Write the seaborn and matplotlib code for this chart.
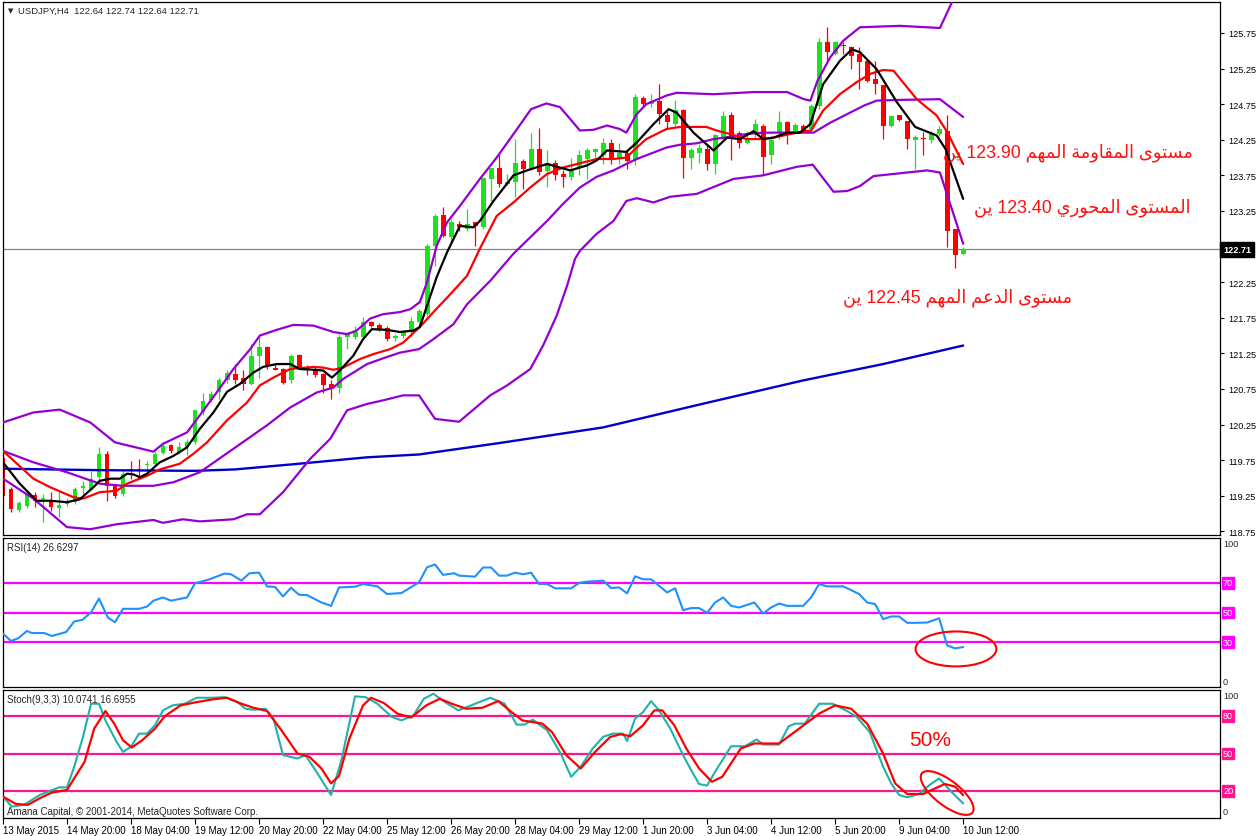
import numpy as np
import matplotlib
matplotlib.use("Agg")
import matplotlib.pyplot as plt
import seaborn as sns
from matplotlib.patches import Ellipse
from matplotlib import transforms as mtrans

sns.set_style("white")
plt.rcParams['font.family'] = ['Liberation Sans', 'DejaVu Sans']

# ---------------- data ----------------
symbol = "USDJPY,H4"
opens = [119.78,119.35,119.05,119.11,119.26,119.20,119.18,119.08,119.14,119.16,
         119.36,119.35,119.51,119.84,119.39,119.28,119.62,119.62,119.68,119.70,
         119.85,119.96,119.87,119.93,120.00,120.42,120.59,120.71,120.87,120.96,
         120.90,120.82,121.22,121.34,121.05,121.03,120.87,121.23,121.05,121.03,
         120.96,120.82,120.77,121.48,121.48,121.48,121.69,121.65,121.61,121.46,
         121.49,121.55,121.69,121.80,122.76,123.19,122.88,123.07,123.00,123.09,
         123.02,123.70,123.85,123.63,123.65,123.95,123.84,124.12,123.81,123.93,
         123.77,123.73,123.86,123.98,124.08,124.03,124.21,124.00,124.06,123.96,
         124.84,124.75,124.79,124.60,124.47,124.67,124.00,124.07,124.12,123.91,
         124.28,124.60,124.34,124.21,124.33,124.45,124.03,124.35,124.50,124.38,
         124.45,124.40,124.73,125.62,125.46,125.58,125.55,125.45,125.36,125.10,
         125.02,124.45,124.60,124.52,124.24,124.27,124.24,124.33,124.38,122.99,
         122.64]
highs = [119.85,119.38,119.18,119.30,119.30,119.27,119.30,119.30,119.22,119.37,
         119.46,119.60,119.93,119.88,119.42,119.63,119.74,119.77,119.74,119.88,
         120.00,119.98,120.00,120.05,120.45,120.70,120.72,120.91,121.01,121.10,
         121.01,121.38,121.48,121.36,121.12,121.05,121.24,121.24,121.08,121.06,
         120.98,120.87,121.52,121.55,121.64,121.76,121.71,121.68,121.63,121.52,
         121.58,121.76,121.87,122.79,123.21,123.30,123.14,123.11,123.28,123.09,
         123.73,123.86,124.05,123.77,124.26,123.98,124.35,124.42,124.10,123.96,
         123.82,124.00,124.10,124.14,124.14,124.28,124.26,124.21,124.10,124.89,
         124.87,124.89,125.03,124.65,124.81,124.68,124.14,124.19,124.17,124.33,
         124.66,124.64,124.38,124.38,124.54,124.47,124.28,124.65,124.52,124.49,
         124.47,124.75,125.68,125.83,125.64,125.62,125.57,125.55,125.39,125.36,
         125.02,124.60,124.60,124.52,124.31,124.36,124.38,124.45,124.60,122.99,
         122.74]
lows = [119.20,119.02,119.02,119.08,119.09,118.88,119.04,118.95,119.10,119.14,
        119.28,119.33,119.46,119.18,119.22,119.25,119.48,119.48,119.61,119.68,
        119.84,119.85,119.84,119.82,119.98,120.38,120.56,120.61,120.84,120.82,
        120.73,120.80,120.91,121.03,121.01,120.82,120.84,121.03,120.94,120.92,
        120.70,120.61,120.70,121.31,121.45,121.45,121.62,121.57,121.42,121.43,
        121.46,121.50,121.64,121.78,122.48,122.88,122.81,122.97,122.97,122.76,
        123.00,123.39,123.58,123.61,123.44,123.56,123.82,123.75,123.58,123.68,
        123.58,123.68,123.75,123.70,124.00,123.91,123.91,123.91,123.84,123.89,
        124.73,124.71,124.47,124.42,124.45,123.72,123.84,123.93,123.83,123.77,
        124.24,123.96,124.13,124.19,124.28,123.75,123.91,124.26,124.19,124.35,
        124.36,124.37,124.68,125.36,125.44,125.46,125.24,124.96,125.06,124.89,
        124.26,124.43,124.52,124.12,123.84,124.04,124.21,124.30,122.74,122.45,
        122.64]
closes = [119.25,119.07,119.15,119.28,119.18,119.21,119.09,119.12,119.18,119.34,
          119.39,119.49,119.84,119.39,119.25,119.56,119.60,119.60,119.70,119.84,
          119.95,119.88,119.93,120.00,120.45,120.58,120.68,120.87,120.98,120.87,
          120.82,121.22,121.34,121.08,121.02,120.84,121.22,121.05,121.03,120.94,
          120.80,120.75,121.48,121.52,121.55,121.69,121.64,121.59,121.45,121.49,
          121.55,121.71,121.85,122.76,123.18,122.90,123.09,123.02,123.07,123.04,
          123.72,123.85,123.63,123.65,123.92,123.84,124.12,123.80,123.92,123.75,
          123.73,123.82,124.03,124.10,124.12,124.21,124.00,124.07,123.95,124.85,
          124.75,124.79,124.61,124.50,124.67,124.00,124.10,124.13,123.91,124.31,
          124.59,124.28,124.20,124.28,124.47,124.01,124.24,124.50,124.33,124.46,
          124.38,124.73,125.62,125.48,125.62,125.57,125.43,125.34,125.08,125.03,
          124.45,124.58,124.53,124.26,124.29,124.26,124.33,124.40,122.97,122.63,
          122.71]

date_labels = ["13 May 2015", "14 May 20:00", "18 May 04:00", "19 May 12:00",
               "20 May 20:00", "22 May 04:00", "25 May 12:00", "26 May 20:00",
               "28 May 04:00", "29 May 12:00", "1 Jun 20:00", "3 Jun 04:00",
               "4 Jun 12:00", "5 Jun 20:00", "9 Jun 04:00", "10 Jun 12:00"]

# indicator lines: (bar, value)
bb_upper = [(0,120.28),(3.8,120.42),(7.1,120.46),(10.9,120.28),(14,120.00),(18.8,119.87),
            (20,119.98),(23,120.14),(24.6,120.38),(26.7,120.70),(28.8,121.03),(30.9,121.31),
            (32.1,121.50),(34.2,121.58),(36.3,121.65),(38.8,121.64),(41.3,121.55),(43,121.52),
            (44.2,121.57),(45.9,121.74),(47.5,121.80),(49.6,121.83),(50.9,121.87),(52.1,121.97),
            (53,122.25),(54.2,122.76),(55.5,123.09),(57.1,123.32),(59.6,123.70),(61.7,124.00),
            (63.8,124.33),(66,124.68),(67.9,124.76),(69.6,124.71),(70.9,124.54),(72.1,124.38),
            (73.8,124.39),(75.5,124.45),(77.1,124.40),(77.9,124.35),(79.2,124.61),(80.4,124.75),
            (82.9,124.87),(84.2,124.91),(88.8,124.89),(93.8,124.92),(98,124.92),(100.1,124.82),
            (100.9,124.80),(101.8,125.08),(103.4,125.41),(105,125.64),(107.1,125.83),
            (112.1,125.85),(117.1,125.82),(118.8,126.23),(120,126.40)]
bb_middle = [(0,119.88),(3.8,119.72),(8,119.58),(12.1,119.42),(15,119.39),(18.8,119.39),
             (21.3,119.44),(24.6,119.58),(28.8,119.91),(33,120.24),(35.9,120.49),(39.2,120.70),
             (41.3,120.77),(42.5,120.89),(45.5,121.10),(47.5,121.18),(49.6,121.26),(52,121.31),
             (53.8,121.45),(56.3,121.66),(58,121.94),(60.9,122.27),(63.8,122.65),(65.9,122.88),
             (68,123.11),(70,123.35),(72.1,123.58),(74.2,123.73),(76.3,123.82),(77.9,123.91),
             (79.2,123.98),(81.3,124.07),(82.9,124.14),(84.6,124.18),(86.7,124.20),(88.8,124.26),
             (90.9,124.29),(92.9,124.33),(95,124.35),(97.1,124.35),(99.2,124.35),(101.3,124.35),
             (103.4,124.49),(105.5,124.61),(107.6,124.73),(109.2,124.80),(112.1,124.81),
             (117.1,124.82),(120,124.57)]
bb_lower = [(0,119.49),(3.8,119.21),(8,118.81),(10.9,118.78),(14.2,118.85),(18.8,118.91),
            (20,118.87),(22.5,118.92),(24.6,118.89),(28.8,118.92),(30.5,118.99),(32.1,118.99),
            (35,119.30),(38.4,119.77),(40.9,120.05),(43,120.45),(45.5,120.54),(47.5,120.59),
            (50,120.66),(52,120.66),(54,120.33),(57,120.29),(60.9,120.66),(63,120.80),
            (65.9,121.03),(67.5,121.36),(69.2,121.78),(70.5,122.20),(71.5,122.58),(72.1,122.69),
            (74.2,122.93),(76.3,123.11),(77.9,123.39),(79.2,123.43),(81.3,123.37),(83.4,123.45),
            (86.7,123.49),(91.3,123.70),(95,123.75),(99.2,123.87),(101.2,123.90),(103.8,123.52),
            (105.5,123.53),(107.1,123.60),(108.8,123.74),(115.5,123.82),(117.1,123.79),(120,122.79)]
ma_red = [(0,119.88),(3.8,119.49),(5.9,119.37),(8.8,119.23),(10,119.21),(12.1,119.30),
          (14.2,119.32),(15.5,119.42),(18,119.53),(19.6,119.62),(22.1,119.70),(23.8,119.84),
          (25.5,120.00),(28,120.31),(30.5,120.56),(32.1,120.80),(33.8,120.91),(35.9,121.03),
          (38.8,121.06),(40,121.05),(41.3,121.02),(42.5,121.05),(44.6,121.17),(46.3,121.24),
          (48.4,121.31),(50,121.40),(52.1,121.62),(53.8,121.83),(55.9,122.08),(58,122.34),
          (59.6,122.72),(61.7,123.18),(63.8,123.37),(65.9,123.58),(68,123.77),(70,123.86),
          (72.1,123.92),(74.2,123.98),(76.3,123.98),(77.9,124.00),(79.2,124.14),(80.4,124.26),
          (82.9,124.40),(84.6,124.43),(87.9,124.43),(89.2,124.38),(90.9,124.33),(92.9,124.26),
          (95,124.26),(96.3,124.28),(99.2,124.35),(101,124.38),(102.5,124.66),(104.6,124.89),
          (106.7,125.06),(108.5,125.18),(110,125.23),(111.3,125.22),(114.2,124.82),
          (116.7,124.59),(118,124.36),(120,123.91)]
ma_black = [(0,119.72),(2.1,119.42),(4.2,119.18),(5.9,119.18),(8,119.16),(9.6,119.20),
            (11.3,119.37),(12.1,119.46),(13.4,119.49),(14.6,119.49),(15.5,119.56),(16.3,119.55),
            (17.1,119.51),(18,119.56),(19.6,119.72),(21.3,119.81),(23,119.93),(24.6,120.19),
            (26.3,120.42),(28,120.71),(29.6,120.82),(31.3,120.98),(32.5,121.06),(34.2,121.10),
            (35.9,121.10),(37.1,121.03),(38.8,121.02),(40,121.01),(41.1,120.91),(42.1,121.01),
            (43.8,121.22),(45,121.45),(46.1,121.59),(48,121.58),(49.6,121.55),(51.3,121.57),
            (52.1,121.62),(53,121.92),(54.2,122.32),(55.5,122.67),(57.1,123.04),(58.8,123.02),
            (59.6,123.11),(61.3,123.39),(63.8,123.75),(65.5,123.82),(68,123.91),(69.6,123.86),
            (70.9,123.82),(73,123.89),(74.2,123.96),(75.5,124.10),(77.9,124.08),(79.2,124.21),
            (81.3,124.47),(83.2,124.68),(84.2,124.63),(86.3,124.35),(88.8,124.10),(90.5,124.28),
            (92.1,124.26),(93.8,124.37),(95,124.26),(96.3,124.28),(98,124.35),(99.6,124.35),
            (100.9,124.47),(102.5,125.03),(104.6,125.36),(106.1,125.52),(107.1,125.48),
            (109.2,125.24),(111.7,124.78),(114,124.43),(116.7,124.31),(117.8,124.12),(120,123.42)]
ma_blue = [(0,119.63),(12,119.61),(24,119.60),(29,119.62),(37,119.70),(45.5,119.79),
           (52,119.83),(62,119.99),(75,120.21),(87,120.53),(100,120.87),(110,121.10),(120,121.36)]

rsi = [(0,35.7),(1,30.7),(1.9,32.5),(3,37.5),(3.6,36.1),(5.1,36.1),(6.1,34.1),(7.9,36.8),
       (8.9,43.9),(9.9,45),(11,50),(12,59.5),(13.1,46.6),(14,43.4),(15,52.5),(17,52.5),(18,54),
       (18.8,58),(20,60.2),(21,58),(23,60.2),(24,69.8),(25.7,72.3),(27.7,76.4),(28.5,75.9),
       (29.8,71.6),(30.8,76.6),(32,77),(33,67.7),(34,67.3),(35,60.9),(36,66.8),(37,62),
       (38,61.8),(39.8,56.8),(41,54.5),(42,67),(44,67.5),(45,69.3),(46.8,67.7),(48,62.5),
       (49.8,63.2),(52,70.5),(53,80.7),(54,82.5),(55,75.5),(56.4,76.6),(57,75),(59,74.3),
       (60,80.5),(61,80.5),(62,75),(63,75),(64,77),(65,75.9),(66,77),(67,69.3),(68,69.3),
       (69,66.4),(71,66.4),(72,70),(73,70.9),(75,71.6),(76,66.6),(77,67),(78,63),(79,74.5),
       (80,72.5),(81,72.5),(83,63.6),(84,66.4),(85,51.6),(86,53),(87,53),(88,49.8),(89,56.8),
       (90,60.2),(91,54.5),(92,53.4),(93.9,56.8),(95,49.3),(96,53.4),(97,56.1),(98,54.5),
       (100,54.5),(101,60.2),(102,69.3),(103,67.7),(105,67.7),(106,65.2),(107,62.5),(108,56.8),
       (109,55.7),(110,45.5),(111,47.3),(112,47.3),(113,43),(114,43),(115.5,43.2),(117,46.1),
       (118,27.7),(119,25.7),(120,26.6)]
stoch_k = [(0,15.5),(1.1,7.5),(2.6,8.9),(4.6,16.8),(7,22.9),(8,22.9),(8.9,39.4),(10,63.3),
           (11,89.8),(12,89.8),(12.8,76.5),(14.2,59.3),(15,51.3),(16,55.3),(17,65.9),(18,65.9),
           (19,72.6),(20,84.5),(21.2,88.5),(22.7,89.8),(24.2,94.6),(26,94.6),(27.7,95.1),
           (29.3,91.1),(30.3,85.8),(31.3,85),(32.8,85.8),(33.8,77.9),(35,48.7),(36.8,46),
           (37.8,48.7),(39.3,34.1),(41,16.8),(42.3,44.7),(44,95.7),(45.3,95.1),(46.8,89.8),
           (48.6,79.2),(49.8,76.5),(51.3,80.5),(52.6,93.8),(53.8,97.8),(54.9,92.5),(56.9,84.5),
           (58,87.2),(60.9,94.6),(62.7,89.8),(64.2,73.1),(65.2,73.1),(66.2,77.1),(68,68.6),
           (69.7,50),(71,31.4),(72.2,39.4),(73.7,54),(75,63.3),(76.2,65.9),(77.5,65.9),(78,60),
           (79,77.9),(80,83.2),(81,91.9),(82,84.5),(83.4,69.9),(85,48.7),(86,36.7),(87,25.6),
           (88,24.3),(89,35.4),(91,55.8),(92.7,55.8),(94.2,61.2),(95,57.2),(97,57.2),(98.2,71.8),
           (99,73.9),(100.2,73.9),(102,89.8),(103.7,89.8),(105.7,83.2),(106.7,79.2),(108.3,67.3),
           (110,39.4),(111,26.1),(112,16.8),(113,15),(114.5,17.6),(115.8,24.8),(117,30.1),
           (118.5,19.5),(120,10.1)]
stoch_d = [(0,15.5),(1.6,9.7),(3.1,8.9),(4.6,14.2),(6.1,18.7),(8,20.8),(8.9,30.1),(10.2,43.4),
           (11.4,69.9),(12.8,84),(13.9,73.9),(15,60.6),(16.1,54.8),(17.4,60.6),(19,69.9),
           (20.2,79.7),(22.2,88.5),(24.2,91.1),(26.2,93.3),(28,94.6),(29.8,89.8),(31.3,86.6),
           (33,84),(34.8,68.6),(36.8,50),(38.3,47.3),(39.8,38),(41,26.1),(42,32),(43.3,62),
           (45,88.5),(46,94.6),(47.6,90.4),(49.3,81.9),(51,78.7),(52.9,88.5),(54.6,93.8),
           (56.1,89.8),(57.9,85.8),(59.9,86.6),(61.9,91.9),(63.4,84),(64.9,76.5),(67.4,73.9),
           (68.6,67.3),(70.4,48.7),(72.2,38),(74,51.3),(75.9,63.3),(77.2,65.4),(78.4,63.8),
           (80,72.6),(81.4,84.5),(82.4,84.5),(83.9,72.6),(85.4,54),(87,38),(88.6,27.4),
           (89.9,31.4),(92.2,54),(93.9,58),(97,58),(99.5,69.9),(102,81.9),(104,88.5),(106,85.8),
           (108,73.9),(110,50),(111.5,26.1),(113,17.6),(115,17.6),(116.5,22.1),(117.7,25.6),
           (119,23.5),(120,16.7)]

rsi_levels = [70, 50, 30]
stoch_levels = [80, 50, 20]
rsi_title = "RSI(14) 26.6297"
stoch_title = "Stoch(9,3,3) 10.0741 16.6955"
copyright_txt = "Amana Capital, \u00a9 2001-2014, MetaQuotes Software Corp."
notes = ["مستوى المقاومة المهم 123.90 ين",
         "المستوى المحوري 123.40 ين",
         "مستوى الدعم المهم 122.45 ين"]
note_pos = [(148.7, 124.08), (148.4, 123.31), (133.6, 122.04)]

# ---------------- Arabic shaping (visual order) ----------------
AR = {
    'ا': ('\uFE8D', '\uFE8E', None, None),
    'ل': ('\uFEDD', '\uFEDE', '\uFEDF', '\uFEE0'),
    'م': ('\uFEE1', '\uFEE2', '\uFEE3', '\uFEE4'),
    'س': ('\uFEB1', '\uFEB2', '\uFEB3', '\uFEB4'),
    'ت': ('\uFE95', '\uFE96', '\uFE97', '\uFE98'),
    'و': ('\uFEED', '\uFEEE', None, None),
    'ى': ('\uFEEF', '\uFEF0', None, None),
    'ق': ('\uFED5', '\uFED6', '\uFED7', '\uFED8'),
    'ة': ('\uFE93', '\uFE94', None, None),
    'ه': ('\uFEE9', '\uFEEA', '\uFEEB', '\uFEEC'),
    'ح': ('\uFEA1', '\uFEA2', '\uFEA3', '\uFEA4'),
    'ر': ('\uFEAD', '\uFEAE', None, None),
    'ي': ('\uFEF1', '\uFEF2', '\uFEF3', '\uFEF4'),
    'د': ('\uFEA9', '\uFEAA', None, None),
    'ع': ('\uFEC9', '\uFECA', '\uFECB', '\uFECC'),
    'ن': ('\uFEE5', '\uFEE6', '\uFEE7', '\uFEE8'),
}


def shape_word(w):
    out = []
    for k, ch in enumerate(w):
        f = AR.get(ch)
        if f is None:
            out.append(ch)
            continue
        prev = w[k - 1] if k > 0 else None
        nxt = w[k + 1] if k + 1 < len(w) else None
        jp = prev in AR and AR[prev][2] is not None
        jn = nxt in AR and f[2] is not None
        out.append(f[3] if (jp and jn) else f[1] if jp else f[2] if jn else f[0])
    return ''.join(out)


def visual(text):
    toks = text.split(' ')
    res = []
    for t in reversed(toks):
        res.append(shape_word(t)[::-1] if any(ch in AR for ch in t) else t)
    return ' '.join(res)


# ---------------- figure ----------------
W, H = 1260, 837
fig = plt.figure(figsize=(W / 100, H / 100), dpi=100)
fig.patch.set_facecolor('white')


def px_axes(top, bottom, left=2.5, right=1220):
    return fig.add_axes([left / W, 1 - bottom / H, (right - left) / W, (bottom - top) / H])


ax = px_axes(2.5, 536)
ax_r = px_axes(539, 688)
ax_s = px_axes(691, 819)

XLIM = (-0.06, 152.1)
GREEN, RED = '#1ee01e', '#ff0000'
VIOLET = '#9400d3'

for a in (ax, ax_r, ax_s):
    a.set_xlim(*XLIM)
    a.set_facecolor('white')
    a.grid(False)
    for s in a.spines.values():
        s.set_color('black')
        s.set_linewidth(0.9)
        s.set_visible(True)


def draw_line(a, pts, color, lw=1.6, z=3):
    sns.lineplot(x=[p[0] for p in pts], y=[p[1] for p in pts], ax=a, color=color,
                 linewidth=lw, estimator=None, sort=False, zorder=z)


# --- main price panel ---
o = np.array(opens); h = np.array(highs); l = np.array(lows); c = np.array(closes)
xb = np.arange(len(c))
cols = np.where(c >= o, GREEN, RED)
ax.axhline(c[-1], color='#7a8691', lw=0.9, zorder=1)
ax.vlines(xb, l, h, colors=cols, lw=0.9, zorder=2)
ax.bar(xb, np.maximum(np.abs(c - o), 0.014), bottom=np.minimum(o, c), width=0.62,
       color=cols, edgecolor='none', zorder=2)

draw_line(ax, ma_blue, '#0000cd', 1.7)
draw_line(ax, bb_upper, VIOLET, 1.6)
draw_line(ax, bb_middle, VIOLET, 1.6)
draw_line(ax, bb_lower, VIOLET, 1.6)
draw_line(ax, ma_red, RED, 1.6)
draw_line(ax, ma_black, 'black', 1.6, z=4)

ax.set_ylim(118.699, 126.192)
price_ticks = np.arange(118.75, 125.76, 0.5)
ax.set_yticks(price_ticks)
# the tick label hidden under the current-price box is left blank
ax.set_yticklabels(["" if abs(v - c[-1]) < 0.12 else f"{v:.2f}" for v in price_ticks])
ax.yaxis.tick_right()
ax.tick_params(axis='y', direction='out', length=3, width=0.8, pad=3, labelsize=6.6,
               colors='black')
ax.set_xticks([])
ax.set_xlabel(''); ax.set_ylabel('')

right_tr = mtrans.blended_transform_factory(ax.transAxes, ax.transData)
ax.text(1.0, c[-1], f"{c[-1]:.2f}", transform=mtrans.offset_copy(right_tr, fig=fig, x=3, y=0, units='dots'),
        ha='left', va='center', fontsize=6.6, fontweight='bold', color='white', clip_on=False, zorder=10,
        bbox=dict(boxstyle='square,pad=0.3', fc='black', ec='black'))

ax.text(0.0045, 0.984, '\u25bc', transform=ax.transAxes, fontsize=5, va='center', ha='left',
        family=['DejaVu Sans'])
ax.text(0.0127, 0.984, f"{symbol}  {o[-1]:.2f} {h[-1]:.2f} {l[-1]:.2f} {c[-1]:.2f}",
        transform=ax.transAxes, fontsize=6.8, va='center', ha='left')

for txt, (nx, ny) in zip(notes, note_pos):
    ax.text(nx, ny, visual(txt), color='#ff1010', fontsize=12.8, ha='right', va='center',
            family=['Liberation Sans', 'DejaVu Sans'], zorder=6)

# --- RSI panel ---
for lv in rsi_levels:
    ax_r.axhline(lv, color='#ff00ff', lw=1.6, zorder=1)
draw_line(ax_r, rsi, '#1e90ff', 1.5)
ax_r.set_ylim(-0.5, 100.5)
ax_r.set_xticks([]); ax_r.set_yticks([])
ax_r.set_xlabel(''); ax_r.set_ylabel('')
r_tr = mtrans.offset_copy(mtrans.blended_transform_factory(ax_r.transAxes, ax_r.transData),
                          fig=fig, x=3, y=0, units='dots')
ax_r.text(1.0, 100, '100', transform=r_tr, fontsize=6.6, ha='left', va='top', clip_on=False)
ax_r.text(1.0, 0, '0', transform=r_tr, fontsize=6.6, ha='left', va='bottom', clip_on=False)
for lv in rsi_levels:
    ax_r.text(1.0, lv, str(lv), transform=r_tr, fontsize=6.6, ha='left', va='center', color='white',
              clip_on=False, bbox=dict(boxstyle='square,pad=0.12', fc='#ff00ff', ec='#ff00ff'))
ax_r.text(0.0037, 0.94, rsi_title, transform=ax_r.transAxes, fontsize=7, va='center', ha='left')
ax_r.add_patch(Ellipse((119.1, 25.3), 10.1, 23.7, fill=False, ec='red', lw=1.5, zorder=6))

# --- Stochastic panel ---
for lv in stoch_levels:
    ax_s.axhline(lv, color='#ff1493', lw=1.6, zorder=1)
draw_line(ax_s, stoch_k, '#20b2aa', 1.5)
draw_line(ax_s, stoch_d, RED, 1.6, z=4)
ax_s.set_ylim(-1.6, 100.8)
ax_s.set_yticks([])
ax_s.set_xlabel(''); ax_s.set_ylabel('')
s_tr = mtrans.offset_copy(mtrans.blended_transform_factory(ax_s.transAxes, ax_s.transData),
                          fig=fig, x=3, y=0, units='dots')
ax_s.text(1.0, 100, '100', transform=s_tr, fontsize=6.6, ha='left', va='top', clip_on=False)
ax_s.text(1.0, 0, '0', transform=s_tr, fontsize=6.6, ha='left', va='bottom', clip_on=False)
for lv in stoch_levels:
    ax_s.text(1.0, lv, str(lv), transform=s_tr, fontsize=6.6, ha='left', va='center', color='white',
              clip_on=False, bbox=dict(boxstyle='square,pad=0.12', fc='#ff1493', ec='#ff1493'))
ax_s.text(0.0037, 0.93, stoch_title, transform=ax_s.transAxes, fontsize=7, va='center', ha='left')
ax_s.text(0.0037, 0.055, copyright_txt, transform=ax_s.transAxes, fontsize=7, va='center', ha='left')
ax_s.text(115.9, 60.8, '50%', color='red', fontsize=15, ha='center', va='center', zorder=6)
ell_tr = mtrans.ScaledTranslation(118.0, 18.4, ax_s.transData)
ax_s.add_patch(Ellipse((0, 0), 64, 25, angle=-37.7, fill=False, ec='red', lw=1.5,
                       transform=ell_tr, zorder=6, clip_on=False))

ax_s.set_xticks(np.arange(0, len(c), 8))
ax_s.set_xticklabels(date_labels)
ax_s.tick_params(axis='x', direction='out', length=4, width=0.8, pad=1, labelsize=7,
                 colors='black', bottom=True)
for lbl in ax_s.get_xticklabels():
    lbl.set_ha('left')

fig.savefig('out.png', dpi=100)
